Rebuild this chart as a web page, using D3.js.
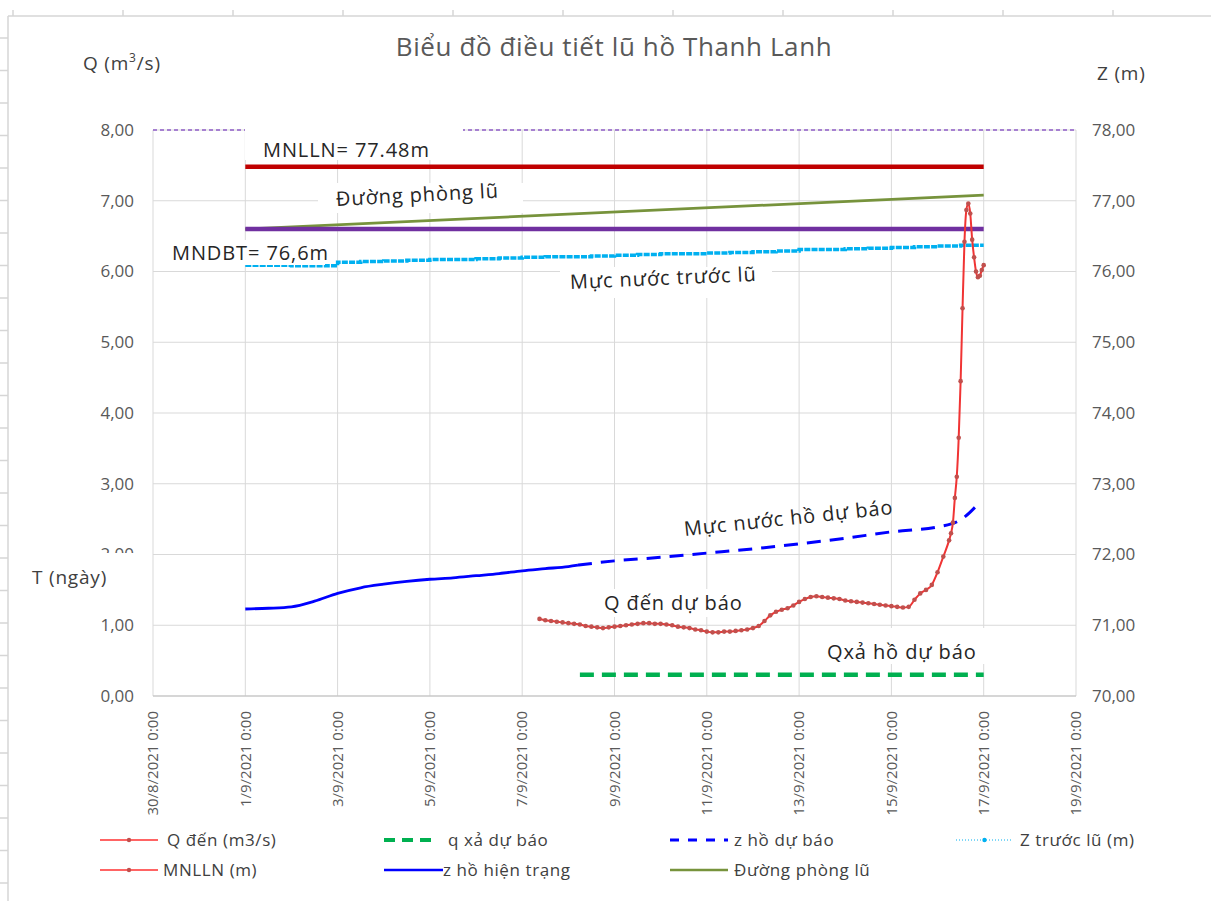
<!DOCTYPE html>
<html>
<head>
<meta charset="utf-8">
<script src="https://cdn.jsdelivr.net/npm/d3@7/dist/d3.min.js"></script>
<style>
	body{margin:0;background:#fff;}
	text{font-family:"Open Sans",sans-serif;}
</style>
</head>
<body>
<div id="chart"></div>
<script>
var parse = d3.timeParse("%d/%m/%Y %H:%M");

// axes
var xTicks = ["30/08/2021 00:00","01/09/2021 00:00","03/09/2021 00:00","05/09/2021 00:00","07/09/2021 00:00",
	"09/09/2021 00:00","11/09/2021 00:00","13/09/2021 00:00","15/09/2021 00:00","17/09/2021 00:00","19/09/2021 00:00"];
var qTicks = [0,1,2,3,4,5,6,7,8];
var zTicks = [70,71,72,73,74,75,76,77,78];

// reservoir levels (right axis, m)
var mnlln = [["01/09/2021 00:00",77.48],["17/09/2021 00:00",77.48]];
var mndbt = [["01/09/2021 00:00",76.6],["17/09/2021 00:00",76.6]];
var phongLu = [["01/09/2021 00:00",76.60],["17/09/2021 00:00",77.08]];
var zTruocLuStart = "01/09/2021 00:00"; // every 12 h
var zTruocLu = [76.09,76.09,76.08,76.08,76.13,76.14,76.15,76.16,76.17,76.17,76.18,76.19,76.20,76.21,76.21,76.22,
	76.23,76.24,76.25,76.25,76.26,76.27,76.28,76.29,76.31,76.31,76.32,76.33,76.34,76.35,76.36,76.37,76.37];
var zHienTrang = [["01/09/2021 00:00",71.23],["01/09/2021 12:00",71.24],["02/09/2021 00:00",71.26],["02/09/2021 12:00",71.34],
	["03/09/2021 00:00",71.45],["03/09/2021 12:00",71.53],["04/09/2021 00:00",71.58],["04/09/2021 12:00",71.62],
	["05/09/2021 00:00",71.65],["05/09/2021 12:00",71.67],["06/09/2021 00:00",71.70],["06/09/2021 12:00",71.73],
	["07/09/2021 00:00",71.77],["07/09/2021 12:00",71.80],["08/09/2021 00:00",71.83],["08/09/2021 05:00",71.85]];
var zDuBao = [["08/09/2021 05:00",71.85],["09/09/2021 00:00",71.91],["10/09/2021 00:00",71.96],["11/09/2021 00:00",72.02],
	["12/09/2021 00:00",72.08],["13/09/2021 00:00",72.15],["14/09/2021 00:00",72.23],["15/09/2021 00:00",72.32],
	["16/09/2021 00:00",72.39],["16/09/2021 12:00",72.49],["16/09/2021 21:00",72.71]];

// discharge (left axis, m3/s)
var qXa = [["08/09/2021 06:00",0.30],["17/09/2021 00:00",0.30]];
var qDenStart = "07/09/2021 09:00"; // every 3 h
var qDen3h = [1.09,1.07,1.06,1.05,1.04,
	1.03,1.02,1.01,0.99,0.98,0.97,0.96,0.97,
	0.98,0.99,1.00,1.01,1.02,1.03,1.03,1.02,
	1.02,1.01,1.00,0.98,0.97,0.96,0.94,0.93,
	0.91,0.90,0.90,0.91,0.91,0.92,0.93,0.94,
	0.96,0.99,1.06,1.14,1.19,1.22,1.24,1.28,
	1.33,1.37,1.40,1.41,1.40,1.39,1.38,1.37,
	1.35,1.34,1.33,1.32,1.31,1.30,1.29,1.28,
	1.27,1.26,1.25,1.26,1.36,1.45,1.50,1.57,
	1.75,1.97,2.20];
var qDenPeakStart = "16/09/2021 07:00"; // every 1 h
var qDen1h = [2.30,2.45,2.80,3.10,3.65,4.45,5.48,6.42,6.87,6.96,6.82,6.45,6.20,6.00,5.92,5.94,6.02,6.09];

var legendNames = ["Q đến (m3/s)","q xả dự báo","z hồ dự báo","Z trước lũ (m)","MNLLN (m)","z hồ hiện trạng","Đường phòng lũ"];

function pairs(a){ return a.map(function(d){ return {t:parse(d[0]), v:d[1]}; }); }
function steps(start, vals, hours){
	var t0 = parse(start);
	return vals.map(function(v,i){ return {t:d3.timeHour.offset(t0, i*hours), v:v}; });
}

var W = 1211, H = 901;
var svg = d3.select("#chart").append('svg').attr('width',W).attr('height',H);

var x = d3.scaleTime().domain([parse(xTicks[0]), parse(xTicks[xTicks.length-1])]).range([153,1076]);
var yL = d3.scaleLinear().domain([0,8]).range([696,130]);
var yR = d3.scaleLinear().domain([70,78]).range([696,130]);

// sheet frame
var frame = svg.append('g').attr('stroke','#d6d6d6').attr('stroke-width',1.5);
frame.append('line').attr('x1',8).attr('x2',W).attr('y1',16).attr('y2',16);
frame.append('line').attr('x1',8).attr('x2',8).attr('y1',16).attr('y2',H);
d3.range(13,W,110).forEach(function(px){
	frame.append('line').attr('x1',px).attr('x2',px).attr('y1',10).attr('y2',16);
});
d3.range(38,H,32.5).forEach(function(py){
	frame.append('line').attr('x1',0).attr('x2',8).attr('y1',py).attr('y2',py);
});

// grid
var grid = svg.append('g').attr('stroke','#d9d9d9').attr('stroke-width',1);
grid.selectAll('.h').data(qTicks).enter().append('line')
	.attr('x1',x.range()[0]).attr('x2',x.range()[1])
	.attr('y1',function(d){return yL(d)}).attr('y2',function(d){return yL(d)});
grid.selectAll('.v').data(xTicks).enter().append('line')
	.attr('x1',function(d){return x(parse(d))}).attr('x2',function(d){return x(parse(d))})
	.attr('y1',yL(8)).attr('y2',yL(0));
svg.append('line').attr('x1',x.range()[0]).attr('x2',x.range()[1]).attr('y1',yL(0)).attr('y2',yL(0))
	.attr('stroke','#bfbfbf').attr('stroke-width',1.2);

// top dashed line
svg.append('line').attr('x1',x.range()[0]).attr('x2',x.range()[1]).attr('y1',yL(8)).attr('y2',yL(8))
	.attr('stroke','#8e5cc8').attr('stroke-width',1.3).attr('stroke-dasharray','4,3');

// axes
var fmt = d3.format(".2f");
function comma(v){ return fmt(v).replace('.',','); }
var axL = d3.axisLeft(yL).tickValues(qTicks).tickFormat(comma).tickSize(0).tickPadding(19);
var axR = d3.axisRight(yR).tickValues(zTicks).tickFormat(comma).tickSize(0).tickPadding(16);
var gL = svg.append('g').attr('transform','translate(153,0)').call(axL);
var gR = svg.append('g').attr('transform','translate(1076,0)').call(axR);
[gL,gR].forEach(function(g){
	g.select('.domain').remove();
	g.selectAll('text').attr('font-size',17).attr('fill','#595959').style('font-family','"Open Sans",sans-serif');
});
var tf = d3.timeFormat("%-d/%-m/%Y %-H:%M");
svg.append('g').selectAll('text').data(xTicks).enter().append('text')
	.text(function(d){return tf(parse(d))})
	.attr('transform',function(d){return 'translate('+x(parse(d))+',711) rotate(-90)'})
	.attr('text-anchor','end').attr('dy','0.35em')
	.attr('font-size',15).attr('fill','#595959');

// series
function lineR(curve){ return d3.line().x(function(d){return x(d.t)}).y(function(d){return yR(d.v)}).curve(curve||d3.curveLinear); }
function lineL(curve){ return d3.line().x(function(d){return x(d.t)}).y(function(d){return yL(d.v)}).curve(curve||d3.curveLinear); }

svg.append('path').datum(pairs(phongLu)).attr('d',lineR())
	.attr('fill','none').attr('stroke','#77933c').attr('stroke-width',2.8);
svg.append('path').datum(pairs(mndbt)).attr('d',lineR())
	.attr('fill','none').attr('stroke','#7030a0').attr('stroke-width',4.5);
svg.append('path').datum(pairs(mnlln)).attr('d',lineR())
	.attr('fill','none').attr('stroke','#c00000').attr('stroke-width',4.5);
svg.append('path').datum(steps(zTruocLuStart,zTruocLu,12)).attr('d',lineR(d3.curveStepAfter))
	.attr('fill','none').attr('stroke','#00b0f0').attr('stroke-width',3.5).attr('stroke-dasharray','6,1.2');
svg.append('path').datum(pairs(zHienTrang)).attr('d',lineR(d3.curveMonotoneX))
	.attr('fill','none').attr('stroke','#0000ff').attr('stroke-width',2.8);
svg.append('path').datum(pairs(zDuBao)).attr('d',lineR(d3.curveMonotoneX))
	.attr('fill','none').attr('stroke','#0000ff').attr('stroke-width',3).attr('stroke-dasharray','14,9');
svg.append('path').datum(pairs(qXa)).attr('d',lineL())
	.attr('fill','none').attr('stroke','#00b050').attr('stroke-width',4.5).attr('stroke-dasharray','14,8');

var qDen = steps(qDenStart,qDen3h,3).concat(steps(qDenPeakStart,qDen1h,1));
svg.append('path').datum(qDen).attr('d',lineL(d3.curveMonotoneX))
	.attr('fill','none').attr('stroke','#f03434').attr('stroke-width',2);
svg.append('g').selectAll('circle').data(qDen).enter().append('circle')
	.attr('cx',function(d){return x(d.t)}).attr('cy',function(d){return yL(d.v)})
	.attr('r',2.3).attr('fill','#c0504d');

// text boxes
var notes = [
	{t:"MNLLN= 77.48m", x:263, y:150, a:0, box:[245,124,463,160]},
	{t:"Đường phòng lũ", x:336, y:199, a:-3, box:[318,183,523,213]},
	{t:"MNDBT= 76,6m", x:172, y:253, a:0, box:[165,240,325,265]},
	{t:"Mực nước trước lũ", x:570, y:282, a:-2.5, box:[560,267,772,298]},
	{t:"Mực nước hồ dự báo", x:684, y:529, a:-6, box:null},
	{t:"Q đến dự báo", x:604, y:603, a:0, box:[596,589,750,617]},
	{t:"Qxả hồ dự báo", x:827, y:652, a:0, box:[818,628,992,664]}
];
notes.forEach(function(n){
	if (n.box) svg.append('rect').attr('x',n.box[0]).attr('y',n.box[1])
		.attr('width',n.box[2]-n.box[0]).attr('height',n.box[3]-n.box[1]).attr('fill','#fff');
	svg.append('text').text(n.t)
		.attr('transform','translate('+n.x+','+n.y+') rotate('+n.a+')')
		.attr('dy','0.35em').attr('font-size',20).attr('letter-spacing',0.9).attr('fill','#262626');
});

// titles
svg.append('text').text('Biểu đồ điều tiết lũ hồ Thanh Lanh')
	.attr('x',614).attr('y',56).attr('text-anchor','middle')
	.attr('font-size',26).attr('letter-spacing',0.6).attr('fill','#595959');
var qLab = svg.append('text').attr('x',83).attr('y',70).attr('font-size',19).attr('letter-spacing',0.8).attr('fill','#404040');
qLab.append('tspan').text('Q (m');
qLab.append('tspan').text('3').attr('font-size',12).attr('dy',-8);
qLab.append('tspan').text('/s)').attr('dy',8);
svg.append('text').text('Z (m)').attr('x',1097).attr('y',80).attr('font-size',19).attr('letter-spacing',0.8).attr('fill','#404040');
svg.append('rect').attr('x',25).attr('y',553).attr('width',118).attr('height',45).attr('fill','#fff');
svg.append('text').text('T (ngày)').attr('x',32).attr('y',584).attr('font-size',19).attr('letter-spacing',0.8).attr('fill','#404040');

// legend
var leg = svg.append('g').attr('font-size',17).attr('letter-spacing',0.6).attr('fill','#404040');
var legItems = [
	{i:0, x1:100, x2:158, tx:167, y:840, c:'#ff3030', w:1.5, dash:null, m:'#c0504d'},
	{i:1, x1:384, x2:436, tx:448, y:840, c:'#00b050', w:4, dash:'11,7', m:null},
	{i:2, x1:670, x2:728, tx:734, y:840, c:'#0000ff', w:3, dash:'9,9', m:null},
	{i:3, x1:956, x2:1013, tx:1020, y:840, c:'#00b0f0', w:1, dash:'1,2', m:'#00b0f0'},
	{i:4, x1:100, x2:158, tx:163, y:870, c:'#ff3030', w:1.5, dash:null, m:'#c0504d'},
	{i:5, x1:384, x2:443, tx:443, y:870, c:'#0000ff', w:2.5, dash:null, m:null},
	{i:6, x1:670, x2:728, tx:734, y:870, c:'#77933c', w:2.5, dash:null, m:null}
];
legItems.forEach(function(d){
	leg.append('line').attr('x1',d.x1).attr('x2',d.x2).attr('y1',d.y).attr('y2',d.y)
		.attr('stroke',d.c).attr('stroke-width',d.w).attr('stroke-dasharray',d.dash);
	if (d.m) leg.append('circle').attr('cx',(d.x1+d.x2)/2).attr('cy',d.y).attr('r',2.2).attr('fill',d.m);
	leg.append('text').text(legendNames[d.i]).attr('x',d.tx).attr('y',d.y).attr('dy','0.35em');
});
</script>
</body>
</html>
